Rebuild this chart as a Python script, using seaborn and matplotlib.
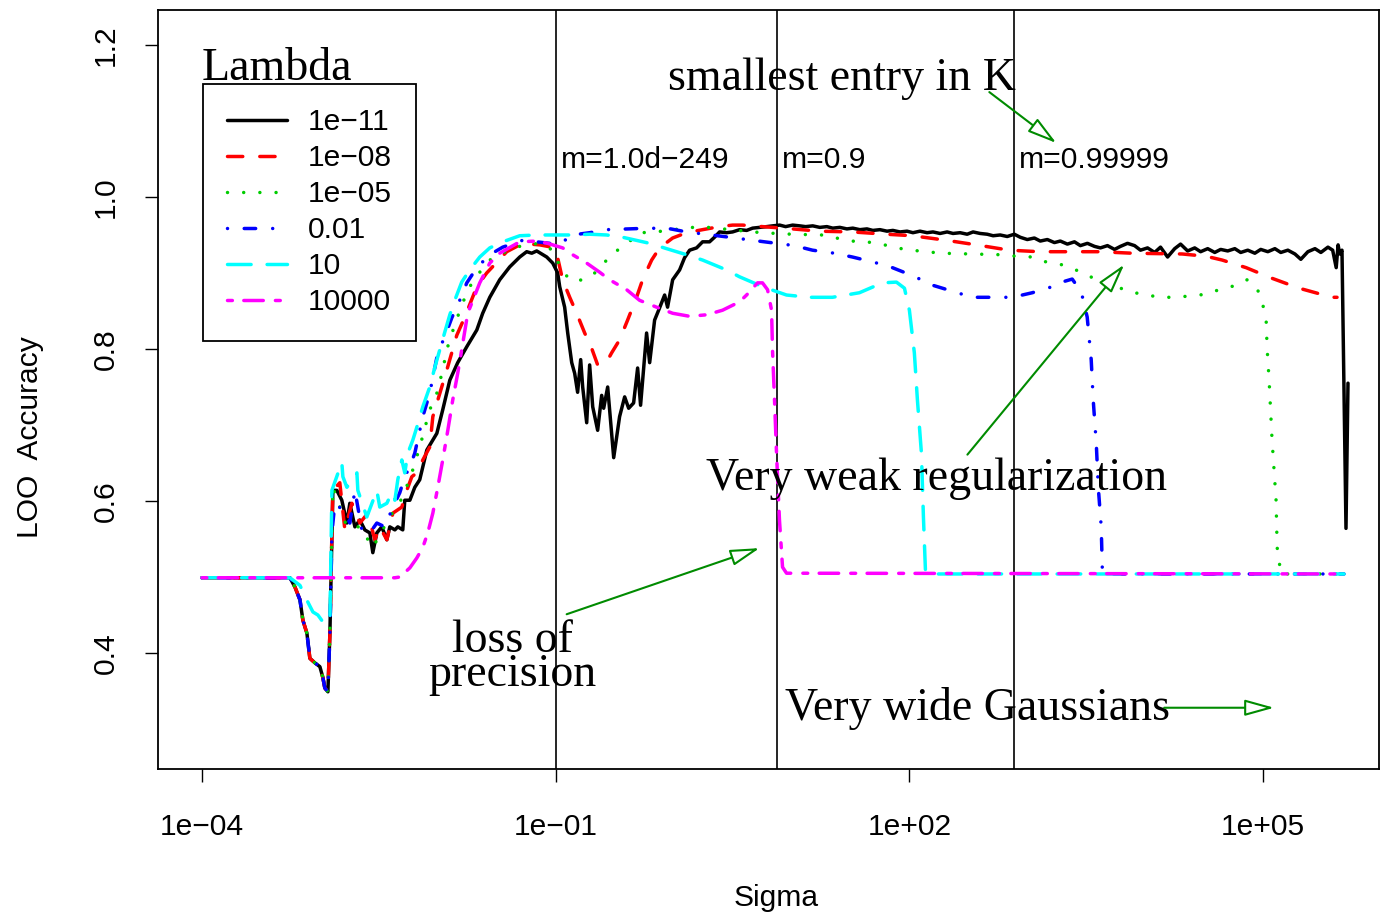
import numpy as np
import pandas as pd
import matplotlib
matplotlib.use("Agg")
import matplotlib.pyplot as plt
from matplotlib.ticker import NullLocator
import seaborn as sns

# ---------------- data (x given as log10(sigma)) ----------------
lambda_labels = ["1e\u221211", "1e\u221208", "1e\u221205", "0.01", "10", "10000"]

black_log_sigma = [-4.000, -3.254, -3.212, -3.169, -3.144, -3.110, -3.085, -3.042, -3.000, -2.975, -2.958, -2.932, -2.915, -2.898,
                   -2.890, -2.856, -2.814, -2.771, -2.746, -2.703, -2.661, -2.619, -2.576, -2.551, -2.517, -2.475, -2.432, -2.407,
                   -2.364, -2.339, -2.297, -2.280, -2.237, -2.195, -2.153, -2.093, -2.008, -1.958, -1.898, -1.831, -1.754, -1.669,
                   -1.619, -1.559, -1.475, -1.390, -1.305, -1.246, -1.203, -1.161, -1.076, -1.025, -0.983, -0.966, -0.924, -0.898,
                   -0.864, -0.839, -0.814, -0.788, -0.771, -0.737, -0.712, -0.686, -0.644, -0.610, -0.593, -0.559, -0.508, -0.458,
                   -0.415, -0.381, -0.339, -0.305, -0.280, -0.229, -0.203, -0.161, -0.119, -0.076, -0.051, -0.008, 0.051, 0.093,
                   0.136, 0.195, 0.246, 0.305, 0.347, 0.390, 0.449,
                   0.50, 0.56, 0.62, 0.67, 0.73, 0.79, 0.84, 0.90, 0.95, 1.01, 1.07, 1.12, 1.18, 1.24, 1.30, 1.35, 1.41, 1.47,
                   1.52, 1.58, 1.64, 1.69, 1.75, 1.81, 1.86, 1.92, 1.98, 2.03, 2.09, 2.15, 2.20, 2.26, 2.32, 2.37, 2.43, 2.49,
                   2.54, 2.60, 2.66, 2.71, 2.77, 2.83, 2.89, 2.94, 3.00, 3.06, 3.11, 3.17, 3.23, 3.28, 3.34, 3.40, 3.45, 3.51,
                   3.57, 3.62, 3.68, 3.74, 3.79, 3.85, 3.91, 3.96, 4.02, 4.08, 4.13, 4.19, 4.25, 4.30, 4.36, 4.42, 4.47, 4.53,
                   4.59, 4.64, 4.70, 4.76, 4.81, 4.87, 4.93, 4.98, 5.04, 5.10, 5.15, 5.21, 5.27, 5.32, 5.38, 5.44, 5.49, 5.55,
                   5.59, 5.62, 5.636, 5.65, 5.669, 5.703, 5.720]
black_acc = [0.499, 0.499, 0.487, 0.470, 0.443, 0.426, 0.393, 0.387, 0.382, 0.368, 0.354, 0.349, 0.426, 0.558,
             0.614, 0.614, 0.601, 0.571, 0.597, 0.566, 0.575, 0.562, 0.558, 0.532, 0.558, 0.566, 0.549, 0.566,
             0.562, 0.566, 0.562, 0.601, 0.601, 0.618, 0.628, 0.667, 0.689, 0.720, 0.759, 0.782, 0.803, 0.825,
             0.847, 0.868, 0.891, 0.908, 0.921, 0.928, 0.926, 0.929, 0.921, 0.913, 0.900, 0.882, 0.855, 0.821,
             0.782, 0.768, 0.743, 0.786, 0.750, 0.703, 0.779, 0.724, 0.693, 0.739, 0.722, 0.750, 0.657, 0.711,
             0.737, 0.722, 0.729, 0.775, 0.726, 0.821, 0.782, 0.838, 0.854, 0.871, 0.855, 0.891, 0.904, 0.920,
             0.930, 0.933, 0.941, 0.941, 0.947, 0.954, 0.953,
             0.954, 0.957, 0.956, 0.959, 0.960, 0.961, 0.962, 0.963, 0.961, 0.963, 0.962, 0.961, 0.962, 0.960, 0.961, 0.959, 0.960, 0.958,
             0.959, 0.957, 0.958, 0.956, 0.957, 0.955, 0.956, 0.954, 0.955, 0.953, 0.955, 0.953, 0.954, 0.952, 0.954, 0.952, 0.953, 0.951,
             0.954, 0.952, 0.951, 0.949, 0.950, 0.948, 0.951, 0.947, 0.944, 0.946, 0.942, 0.944, 0.940, 0.942, 0.938, 0.941, 0.936, 0.939,
             0.935, 0.933, 0.936, 0.931, 0.935, 0.939, 0.936, 0.930, 0.933, 0.927, 0.934, 0.921, 0.932, 0.938, 0.929, 0.933, 0.928, 0.932,
             0.927, 0.931, 0.929, 0.932, 0.927, 0.930, 0.926, 0.931, 0.928, 0.932, 0.927, 0.930, 0.925, 0.918, 0.928, 0.932, 0.927, 0.934,
             0.930, 0.907, 0.937, 0.925, 0.930, 0.564, 0.755]

red_log_sigma = [-4.000, -3.254, -3.212, -3.169, -3.144, -3.110, -3.085, -3.042, -3.000, -2.975, -2.958, -2.932, -2.915, -2.898,
                 -2.890, -2.831, -2.788, -2.729, -2.661, -2.593, -2.534, -2.492, -2.432, -2.381, -2.305, -2.263, -2.220, -2.178,
                 -2.127, -2.068, -2.042, -1.924, -1.839, -1.771, -1.669, -1.585, -1.500, -1.415, -1.305, -1.220, -1.136, -1.034,
                 -0.992, -0.941, -0.881, -0.822, -0.754, -0.695, -0.644, -0.568, -0.525, -0.458, -0.390, -0.314, -0.263, -0.186,
                 -0.119, -0.008, 0.110, 0.246, 0.390, 0.500, 0.585, 0.754, 1.008, 1.237, 1.517, 1.805, 2.025, 2.314, 2.568,
                 2.847, 3.102, 3.331, 3.610, 3.890, 4.314, 4.517, 4.653, 4.856, 5.076, 5.305, 5.585, 5.627]
red_acc = [0.499, 0.499, 0.487, 0.470, 0.443, 0.426, 0.393, 0.387, 0.382, 0.368, 0.354, 0.349, 0.426, 0.558,
           0.614, 0.624, 0.562, 0.597, 0.571, 0.584, 0.549, 0.566, 0.549, 0.584, 0.592, 0.614, 0.632, 0.637,
           0.654, 0.671, 0.711, 0.772, 0.818, 0.842, 0.882, 0.900, 0.914, 0.928, 0.937, 0.938, 0.937, 0.934,
           0.926, 0.891, 0.868, 0.847, 0.821, 0.801, 0.779, 0.783, 0.795, 0.812, 0.838, 0.868, 0.891, 0.917,
           0.933, 0.946, 0.953, 0.957, 0.961, 0.963, 0.963, 0.961, 0.958, 0.955, 0.954, 0.951, 0.949, 0.943, 0.937,
           0.930, 0.928, 0.928, 0.928, 0.926, 0.925, 0.922, 0.917, 0.907, 0.893, 0.880, 0.868, 0.868]

green_log_sigma = [-4.000, -3.254, -3.212, -3.169, -3.144, -3.110, -3.085, -3.042, -3.000, -2.975, -2.958, -2.932, -2.915, -2.898,
                   -2.890, -2.771, -2.661, -2.551, -2.407, -2.297, -2.212, -2.153, -2.068, -2.008, -1.958, -1.924, -1.856, -1.788,
                   -1.729, -1.644, -1.559, -1.475, -1.364, -1.246, -1.136, -1.025, -0.941, -0.856, -0.737, -0.644, -0.568, -0.475,
                   -0.381, -0.271, -0.153, 0.102, 0.229, 0.356, 0.483, 0.746, 1.000, 1.254, 1.381, 1.508, 1.636, 1.763, 1.890,
                   2.017, 2.271, 2.525, 2.780, 2.907, 3.042, 3.169, 3.288, 3.398, 3.525, 3.636, 3.754, 3.881, 4.008, 4.136,
                   4.263, 4.390, 4.517, 4.644, 4.754, 4.864, 4.949, 4.992, 5.025, 5.034, 5.051, 5.076, 5.110, 5.119, 5.136,
                   5.153, 5.686]
green_acc = [0.499, 0.499, 0.487, 0.470, 0.443, 0.426, 0.393, 0.387, 0.382, 0.368, 0.354, 0.349, 0.426, 0.558,
             0.618, 0.566, 0.566, 0.539, 0.579, 0.605, 0.641, 0.671, 0.720, 0.742, 0.772, 0.799, 0.832, 0.861,
             0.882, 0.901, 0.917, 0.924, 0.933, 0.937, 0.939, 0.930, 0.901, 0.889, 0.892, 0.903, 0.917, 0.930,
             0.941, 0.953, 0.954, 0.959, 0.961, 0.959, 0.957, 0.953, 0.951, 0.950, 0.946, 0.942, 0.941, 0.938, 0.933,
             0.930, 0.926, 0.925, 0.924, 0.922, 0.921, 0.914, 0.911, 0.905, 0.896, 0.887, 0.882, 0.875, 0.871, 0.868,
             0.868, 0.870, 0.872, 0.879, 0.883, 0.891, 0.880, 0.861, 0.842, 0.801, 0.759, 0.680, 0.601, 0.539, 0.520,
             0.504, 0.504]

blue_log_sigma = [-4.000, -3.254, -3.212, -3.169, -3.144, -3.110, -3.085, -3.042, -3.000, -2.975, -2.958, -2.932, -2.915, -2.898,
                  -2.873, -2.805, -2.746, -2.703, -2.644, -2.576, -2.517, -2.449, -2.381, -2.322, -2.280, -2.237, -2.195, -2.127,
                  -2.068, -2.000, -1.941, -1.881, -1.814, -1.754, -1.669, -1.559, -1.449, -1.280, -1.161, -1.051, -1.000, -0.941,
                  -0.856, -0.712, -0.568, -0.381, -0.203, -0.025, 0.110, 0.322, 0.475, 0.669, 0.873, 1.025, 1.178, 1.364, 1.517,
                  1.703, 1.856, 2.034, 2.195, 2.364, 2.534, 2.703, 2.873, 3.042, 3.212, 3.271, 3.381, 3.458, 3.508, 3.542, 3.559,
                  3.585, 3.602, 3.627, 3.636, 3.653, 5.686]
blue_acc = [0.499, 0.499, 0.487, 0.470, 0.443, 0.426, 0.393, 0.387, 0.382, 0.368, 0.354, 0.349, 0.426, 0.558,
            0.597, 0.588, 0.571, 0.614, 0.562, 0.558, 0.571, 0.566, 0.592, 0.611, 0.632, 0.645, 0.663, 0.711,
            0.742, 0.795, 0.816, 0.841, 0.864, 0.887, 0.907, 0.924, 0.934, 0.943, 0.941, 0.939, 0.937, 0.941,
            0.950, 0.953, 0.957, 0.958, 0.959, 0.958, 0.954, 0.950, 0.947, 0.943, 0.939, 0.936, 0.930, 0.926, 0.921,
            0.914, 0.907, 0.896, 0.884, 0.876, 0.868, 0.868, 0.868, 0.874, 0.882, 0.887, 0.892, 0.875, 0.842, 0.786, 0.733,
            0.676, 0.618, 0.566, 0.512, 0.504, 0.504]

cyan_log_sigma = [-4.000, -3.254, -3.169, -3.102, -3.059, -3.017, -2.975, -2.932, -2.915, -2.898, -2.814, -2.805, -2.771, -2.686,
                  -2.678, -2.602, -2.517, -2.492, -2.432, -2.390, -2.364, -2.339, -2.305, -2.280, -2.254, -2.212, -2.178, -2.127,
                  -2.068, -2.025, -1.983, -1.941, -1.898, -1.856, -1.797, -1.729, -1.644, -1.559, -1.449, -1.305, -1.161, -0.992,
                  -0.856, -0.712, -0.568, -0.432, -0.203, -0.059, 0.110, 0.246, 0.449, 0.559, 0.754, 0.958, 1.153, 1.347, 1.576,
                  1.771, 1.890, 1.958, 2.000, 2.042, 2.068, 2.102, 2.119, 2.136, 2.153, 5.686]
cyan_acc = [0.499, 0.499, 0.489, 0.467, 0.454, 0.450, 0.441, 0.439, 0.443, 0.614, 0.651, 0.632, 0.618, 0.637,
            0.614, 0.579, 0.614, 0.592, 0.597, 0.611, 0.601, 0.628, 0.654, 0.637, 0.663, 0.680, 0.697, 0.724,
            0.750, 0.776, 0.799, 0.822, 0.845, 0.864, 0.888, 0.904, 0.921, 0.933, 0.941, 0.949, 0.950, 0.950,
            0.950, 0.951, 0.950, 0.947, 0.939, 0.932, 0.924, 0.917, 0.904, 0.895, 0.882, 0.871, 0.868, 0.868, 0.874,
            0.887, 0.888, 0.880, 0.851, 0.795, 0.733, 0.663, 0.579, 0.509, 0.504, 0.504]

magenta_log_sigma = [-4.000, -2.364, -2.322, -2.237, -2.178, -2.127, -2.085, -2.042, -2.000, -1.958, -1.915, -1.873, -1.831,
                     -1.797, -1.746, -1.644, -1.559, -1.475, -1.305, -1.161, -1.068, -0.941, -0.856, -0.737, -0.627, -0.542,
                     -0.398, -0.288, -0.144, -0.008, 0.136, 0.280, 0.415, 0.559, 0.619, 0.712, 0.754, 0.797, 0.831, 0.839,
                     0.856, 0.873, 0.898, 0.924, 0.958, 5.686]
magenta_acc = [0.499, 0.499, 0.500, 0.512, 0.525, 0.539, 0.558, 0.584, 0.618, 0.654, 0.693, 0.733, 0.768,
               0.799, 0.847, 0.887, 0.913, 0.926, 0.941, 0.942, 0.939, 0.933, 0.924, 0.913, 0.901, 0.891,
               0.878, 0.864, 0.855, 0.847, 0.843, 0.845, 0.851, 0.862, 0.871, 0.887, 0.887, 0.878, 0.851, 0.799,
               0.733, 0.663, 0.575, 0.513, 0.505, 0.504]

x_tick_values = [1e-4, 1e-1, 1e2, 1e5]
x_tick_labels = ["1e\u221204", "1e\u221201", "1e+02", "1e+05"]
y_tick_values = [0.4, 0.6, 0.8, 1.0, 1.2]
y_tick_labels = ["0.4", "0.6", "0.8", "1.0", "1.2"]
vline_log_sigma = [-1.0, 0.873, 2.89]
vline_labels = ["m=1.0d\u2212249", "m=0.9", "m=0.99999"]

series = [
    (black_log_sigma, black_acc),
    (red_log_sigma, red_acc),
    (green_log_sigma, green_acc),
    (blue_log_sigma, blue_acc),
    (cyan_log_sigma, cyan_acc),
    (magenta_log_sigma, magenta_acc),
]

# ---------------- styles ----------------
colors = ["#000000", "#FF0000", "#00CD00", "#0000FF", "#00FFFF", "#FF00FF"]
dash_patterns = [None, (4.4, 4.9), (0.01, 4.65), (0.01, 4.8, 3.3, 4.9), (6.8, 4.6), (1.4, 3.3, 5.6, 3.5)]
LW = 2.5
GREEN = "#008B00"

sns.set_style("ticks")
plt.rcParams["font.family"] = ["Liberation Sans", "DejaVu Sans"]
plt.rcParams.update({"text.color": "black", "axes.labelcolor": "black",
                     "xtick.color": "black", "ytick.color": "black",
                     "axes.edgecolor": "black"})
SERIF = ["Liberation Serif", "DejaVu Serif"]

fig = plt.figure(figsize=(13.8, 9.17), dpi=100)
ax = fig.add_axes([158 / 1380, 1 - 769 / 917, (1379 - 158) / 1380, (769 - 10) / 917])
ax.set_xscale("log")

lines = []
for (ls, acc), col, dp, lab in zip(series, colors, dash_patterns, lambda_labels):
    df = pd.DataFrame({"sigma": np.power(10.0, ls), "acc": acc})
    sns.lineplot(data=df, x="sigma", y="acc", estimator=None, sort=False, color=col,
                 lw=LW, ax=ax, legend=False)
    ln = ax.lines[-1]
    if dp is not None:
        ln.set_linestyle((0, dp))
    ln.set_dash_capstyle("round")
    ln.set_solid_capstyle("round")
    ln.set_label(lab)
    lines.append(ln)

# vertical reference lines
for v in vline_log_sigma:
    ax.axvline(10 ** v, color="black", lw=1.2, zorder=1)

ax.set_xlim(10 ** -4.373, 10 ** 5.983)
ax.set_ylim(0.2474, 1.246)

ax.set_xticks(x_tick_values)
ax.set_xticklabels(x_tick_labels)
ax.xaxis.set_minor_locator(NullLocator())
ax.set_yticks(y_tick_values)
ax.set_yticklabels(y_tick_labels, rotation=90, va="center")
ax.tick_params(axis="both", direction="out", length=9.5, width=1.0, color="black",
               labelsize=21.6, labelcolor="black")
ax.tick_params(axis="x", pad=22)
ax.tick_params(axis="y", pad=18)
for sp in ax.spines.values():
    sp.set_visible(True)
    sp.set_color("black")
    sp.set_linewidth(1.3)

ax.set_xlabel("Sigma", fontsize=21.6)
ax.set_ylabel("LOO  Accuracy", fontsize=21.6)
ax.xaxis.set_label_coords((777 - 158) / 1222, (769 - 898) / 759)
ax.yaxis.set_label_coords((30 - 158) / 1222, (769 - 437) / 759)
ax.xaxis.label.set_va("center")
ax.yaxis.label.set_va("center")

# legend
leg = ax.legend(handles=lines, labels=lambda_labels, loc="upper left",
                bbox_to_anchor=((203 - 158) / 1222, (769 - 84) / 759), borderaxespad=0,
                fontsize=21.6, handlelength=2.0, handletextpad=0.7, labelspacing=0.27,
                borderpad=0.8, frameon=True, fancybox=False, edgecolor="black", framealpha=1)
leg.get_frame().set_linewidth(1.3)
ax.text(10 ** -4.0, 1.154, "Lambda", family=SERIF, fontsize=33, ha="left", va="baseline")

# annotations
ax.text(10 ** 1.432, 1.141, "smallest entry in K", family=SERIF, fontsize=33, ha="center", va="baseline")
for v, lab in zip(vline_log_sigma, vline_labels):
    ax.text(10 ** (v + 0.042), 1.038, lab, fontsize=21.6, ha="left", va="baseline")
ax.text(10 ** 2.229, 0.614, "Very weak regularization", family=SERIF, fontsize=33, ha="center", va="baseline")
ax.text(10 ** -1.364, 0.394, "loss of\nprecision", family=SERIF, fontsize=33, ha="center", va="center",
        multialignment="center", linespacing=0.72)
ax.text(10 ** 0.941, 0.312, "Very wide Gaussians", family=SERIF, fontsize=33, ha="left", va="baseline")

arrow_kw = dict(arrowstyle="-|>,head_length=0.9,head_width=0.25", lw=1.5, ec=GREEN, fc="white",
                mutation_scale=20, shrinkA=0, shrinkB=0)
arrows = [((2.678, 1.138), (3.246, 1.071)),
          ((2.492, 0.661), (3.822, 0.911)),
          ((-0.907, 0.451), (0.729, 0.538)),
          ((4.161, 0.328), (5.093, 0.328))]
for (sx, sy), (tx, ty) in arrows:
    ax.annotate("", xy=(10 ** tx, ty), xytext=(10 ** sx, sy), arrowprops=arrow_kw)

fig.savefig("out.png", dpi=100)
